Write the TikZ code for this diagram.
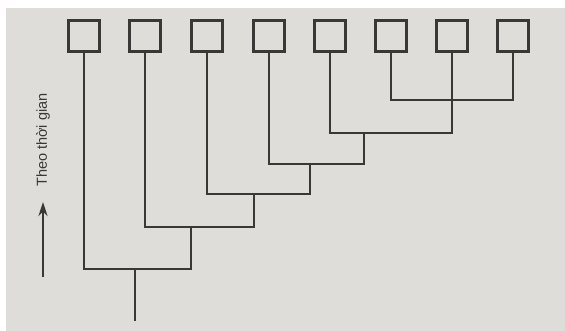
\documentclass[tikz,border=0pt]{standalone}
\usepackage{fontspec}
\setsansfont{Liberation Sans}
\usetikzlibrary{arrows.meta}
\definecolor{paper}{RGB}{223,221,217}
\definecolor{ink}{RGB}{58,56,54}
\begin{document}
\begin{tikzpicture}[x=1pt,y=-1pt,
  taxon/.style={draw=ink,line width=2.8pt,minimum size=31pt,inner sep=0pt},
  branch/.style={draw=ink,line width=2.8pt,line cap=rect}]
\useasboundingbox (0,0) rectangle (565,331);
\fill[paper] (6,8) rectangle (565,331);

% the eight groups
\foreach \i/\x in {1/84,2/145,3/207,4/269,5/330,6/391,7/452,8/513}
  \node[taxon] (b\i) at (\x,36) {};

% branching points
\coordinate (n1) at (135,269);
\coordinate (n2) at (191,227);
\coordinate (n3) at (254,194);
\coordinate (n4) at (310,164);
\coordinate (n5) at (364,133);
\coordinate (n6) at (452,100);
\coordinate (root) at (135,320);

\draw[branch] (b1.south) |- (n1) -| (n2);
\draw[branch] (b2.south) |- (n2) -| (n3);
\draw[branch] (b3.south) |- (n3) -| (n4);
\draw[branch] (b4.south) |- (n4) -| (n5);
\draw[branch] (b5.south) |- (n5) -| (b7.south);
\draw[branch] (b6.south) |- (n6) -| (b8.south);
\draw[branch] (n1) -- (root);

% time axis
\coordinate (tail) at (43,277);
\coordinate (head) at (43,202);
\draw[branch,line cap=butt,-{Stealth[length=14pt,width=9pt]}] (tail) -- (head);
\node[rotate=90,text=ink,font=\sffamily\fontsize{14.5}{14.5}\selectfont] (time) at (43,140) {Theo thời gian};
\end{tikzpicture}
\end{document}
